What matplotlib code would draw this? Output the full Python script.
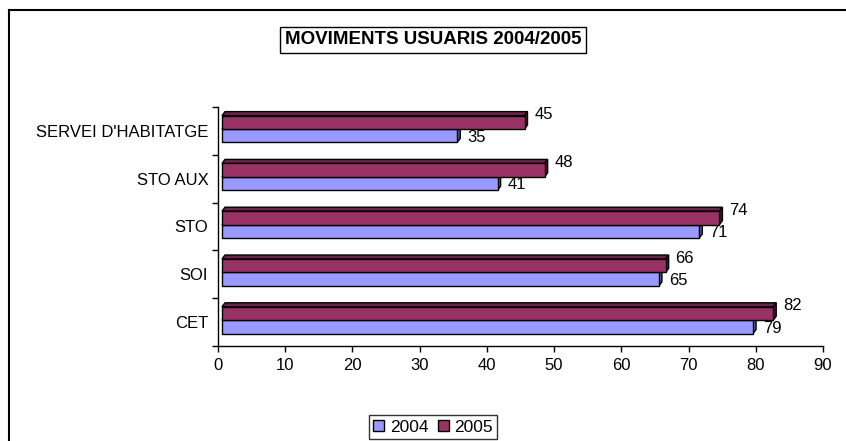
import numpy as np
import matplotlib
matplotlib.use('Agg')
import matplotlib.pyplot as plt
import matplotlib.transforms as mtransforms
from matplotlib.patches import Polygon, Rectangle, Patch
from matplotlib.lines import Line2D

plt.rcParams['font.family'] = ['Liberation Sans', 'DejaVu Sans']

# Data (bottom to top)
categories = ['CET', 'SOI', 'STO', 'STO AUX', "SERVEI D'HABITATGE"]
values_2004 = [79, 65, 71, 41, 35]
values_2005 = [82, 66, 74, 48, 45]
series_names = ['2004', '2005']
x_ticks = list(range(0, 100, 10))
title = 'MOVIMENTS USUARIS 2004/2005'

# Styles
FRONT = {'2004': '#9999FF', '2005': '#993366'}
TOP = {'2004': '#7a7acc', '2005': '#6e2449'}
SIDE = {'2004': '#5c5c99', '2005': '#4d1a33'}
FS = 12

W, H, DPI = 846, 441, 100
fig = plt.figure(figsize=(W / DPI, H / DPI), dpi=DPI)
ax = fig.add_axes([218 / W, 1 - 346 / H, (823 - 218) / W, (346 - 107) / H])

n = len(categories)
ax.set_xlim(0, 90)
ax.set_ylim(0, n)

# pixel -> data conversion for the 3D depth
px_x = (823 - 218) / 90.0
px_y = (346 - 107) / float(n)
depth_dx = 3 / px_x
depth_dy = 4 / px_y

# front plane sits a few pixels to the right of the axis line
shift = mtransforms.ScaledTranslation(4 / DPI, 0, fig.dpi_scale_trans)
trans = ax.transData + shift

bar_h = 0.28
y_pos = np.arange(n) + 0.5 + 0.04


def draw_bar(y0, value, name):
    y1 = y0 + bar_h
    front = Rectangle((0, y0), value, bar_h, facecolor=FRONT[name],
                      edgecolor='black', lw=1.0, transform=trans, zorder=3)
    top = Polygon([(0, y1), (value, y1), (value + depth_dx, y1 + depth_dy),
                   (depth_dx, y1 + depth_dy)], closed=True,
                  facecolor=TOP[name], edgecolor='black', lw=1.0,
                  transform=trans, zorder=2)
    side = Polygon([(value, y0), (value + depth_dx, y0 + depth_dy),
                    (value + depth_dx, y1 + depth_dy), (value, y1)], closed=True,
                   facecolor=SIDE[name], edgecolor='black', lw=1.0,
                   transform=trans, zorder=2)
    for p in (top, side, front):
        ax.add_patch(p)


for i in range(n):
    draw_bar(y_pos[i] - bar_h, values_2004[i], '2004')
    draw_bar(y_pos[i], values_2005[i], '2005')

# data labels
for i in range(n):
    ax.annotate(str(values_2005[i]), (values_2005[i], y_pos[i] + bar_h / 2),
                xytext=(10, 5.5), textcoords='offset points', fontsize=FS,
                ha='left', va='center', zorder=5)
    ax.annotate(str(values_2004[i]), (values_2004[i], y_pos[i] - bar_h / 2),
                xytext=(10, -1), textcoords='offset points', fontsize=FS,
                ha='left', va='center', zorder=5)

# axes styling
for s in ['top', 'right']:
    ax.spines[s].set_visible(False)
ax.spines['left'].set_linewidth(1.0)
ax.spines['bottom'].set_linewidth(1.0)

ax.set_xticks(x_ticks)
ax.set_xticklabels([str(t) for t in x_ticks], fontsize=FS)
ax.tick_params(axis='x', direction='out', length=4, width=1, pad=5)

ax.set_yticks(np.arange(n + 1))
ax.set_yticklabels([])
ax.tick_params(axis='y', which='major', direction='out', length=4, width=1)
ax.set_yticks(np.arange(n) + 0.5, minor=True)
ax.set_yticklabels(categories, minor=True, fontsize=FS)
ax.tick_params(axis='y', which='minor', length=0, pad=7)

# title in a box
fig.text(433 / W, 1 - 40 / H, title, ha='center', va='center',
         fontsize=13.5, fontweight='bold',
         bbox=dict(boxstyle='square,pad=0.25', facecolor='white',
                   edgecolor='black', lw=1.0))

# legend
handles = [Patch(facecolor=FRONT[s], edgecolor='black', lw=1.0) for s in series_names]
leg = fig.legend(handles, series_names, loc='center',
                 bbox_to_anchor=(433 / W, 1 - 427 / H), bbox_transform=fig.transFigure,
                 ncol=2, fontsize=FS + 0.5, frameon=True, fancybox=False,
                 handlelength=0.65, handleheight=0.65, handletextpad=0.3,
                 columnspacing=0.55, borderpad=0.25, borderaxespad=0)
leg.get_frame().set_edgecolor('black')
leg.get_frame().set_linewidth(1.0)

# outer chart border
fig.add_artist(Line2D([9 / W, 1], [1 - 10 / H, 1 - 10 / H], color='black', lw=1.5,
                      transform=fig.transFigure))
fig.add_artist(Line2D([9 / W, 9 / W], [0, 1 - 10 / H], color='black', lw=1.5,
                      transform=fig.transFigure))

fig.savefig('out.png', dpi=DPI)
